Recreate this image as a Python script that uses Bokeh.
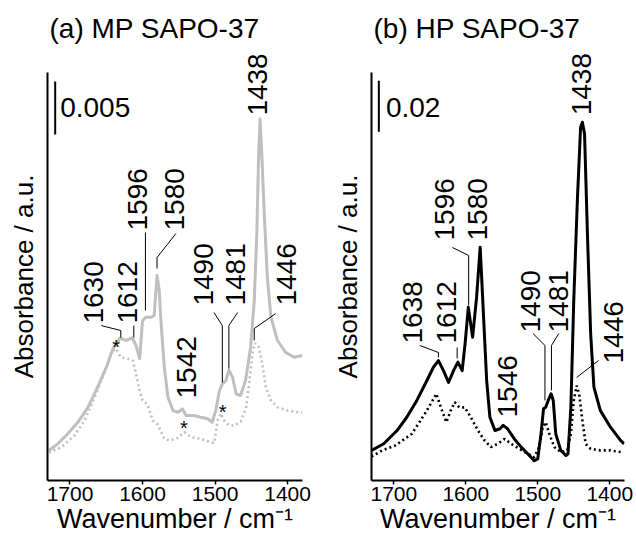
from bokeh.plotting import figure
from bokeh.models import ColumnDataSource, LabelSet, Range1d, FixedTicker
from bokeh.layouts import row
from bokeh.core.properties import value
from bokeh.embed import file_html
from bokeh.resources import INLINE

FONT = "Liberation Sans"

# ---------------- data: panel (a) MP SAPO-37 ----------------
a_solid_wn = [1729, 1717, 1703, 1689, 1675, 1662, 1648, 1641, 1636, 1631, 1623, 1614, 1609, 1604,
              1600, 1595, 1588, 1584, 1580, 1577, 1575, 1570, 1565, 1558, 1551, 1545, 1540, 1529,
              1520, 1510, 1504, 1499, 1494, 1490, 1485, 1481, 1476, 1471, 1465, 1458, 1451, 1446,
              1442.5, 1440, 1438, 1435.5, 1432, 1428, 1423, 1414, 1403, 1391, 1380]
a_solid_abs = [0.00283, 0.00346, 0.00441, 0.00550, 0.00692, 0.00880, 0.01101, 0.01242, 0.01290,
               0.01346, 0.01321, 0.01346, 0.01274, 0.01148, 0.01509, 0.01541, 0.01541, 0.01557,
               0.01934, 0.01792, 0.01541, 0.01069, 0.00786, 0.00660, 0.00644, 0.00676, 0.00613,
               0.00613, 0.00597, 0.00582, 0.00550, 0.00660, 0.00849, 0.00912, 0.00943, 0.01044,
               0.00975, 0.00818, 0.00802, 0.00943, 0.01258, 0.01698, 0.02330, 0.03060, 0.03412,
               0.03060, 0.02484, 0.01918, 0.01541, 0.01321, 0.01210, 0.01163, 0.01179]
a_dot_wn = [1729, 1712, 1694, 1680, 1666, 1653, 1643, 1636.5, 1630, 1620, 1613.5, 1609, 1604, 1600,
            1593, 1586, 1579, 1570, 1563, 1552, 1542.5, 1533, 1519.5, 1506, 1501, 1496.5, 1492,
            1487.5, 1480.5, 1474, 1464.5, 1457.5, 1453, 1448.5, 1445, 1439.5, 1435, 1430, 1423,
            1414, 1400, 1386.5, 1380]
a_dot_abs = [0.00264, 0.00314, 0.00425, 0.00566, 0.00786, 0.01007, 0.01208, 0.01245, 0.01163,
             0.01148, 0.01132, 0.01007, 0.00849, 0.00755, 0.00717, 0.00566, 0.00528, 0.00393,
             0.00377, 0.00401, 0.00456, 0.00409, 0.00393, 0.00361, 0.00354, 0.00566, 0.00632,
             0.00566, 0.00519, 0.00519, 0.00557, 0.00679, 0.00912, 0.01195, 0.01297, 0.01258,
             0.01101, 0.00880, 0.00755, 0.00692, 0.00660, 0.00644, 0.00642]
a_label_text = ["1630", "1612", "1596", "1580", "1542", "1490", "1481", "1446", "1438"]
a_label_wn = [1668, 1620.5, 1607.5, 1556.5, 1539, 1515.5, 1471.5, 1401.5, 1441]
a_label_abs = [0.01481, 0.01481, 0.02359, 0.02359, 0.00774, 0.01651, 0.01651, 0.01651, 0.03443]
a_leader_wn = [[1657, 1630, 1630], [1612, 1612], [1596, 1596], [1554, 1580, 1580],
               [1501.5, 1490, 1490], [1469, 1481, 1481], [1416.5, 1446, 1446]]
a_leader_abs = [[0.01462, 0.01415, 0.01349], [0.01462, 0.01349], [0.02340, 0.01604],
                [0.02330, 0.02104, 0.02000], [0.01585, 0.01462, 0.00925],
                [0.01585, 0.01462, 0.01057], [0.01575, 0.01434, 0.01321]]
a_star_wn = [1636.5, 1543, 1489.5]
a_star_abs = [0.01305, 0.00538, 0.00689]
a_scale = dict(wn=1720.4, top=0.03764, size=0.005, text="0.005", text_wn=1713.5, text_abs=0.03522)
a_axis_top = 0.0385        # drawn extent of the absorbance axis
a_view_top = 0.04076       # top of plotting area (room for the 1438 label)
a_ylabel_at = 0.01925      # where the axis title sits along the axis

# ---------------- data: panel (b) HP SAPO-37 ----------------
b_solid_wn = [1731, 1714, 1695.5, 1682, 1668, 1654, 1645, 1638, 1631, 1624, 1617, 1611, 1605, 1601,
              1596.5, 1590.5, 1585, 1580, 1575.5, 1571, 1566.5, 1559.5, 1552.5, 1548, 1542, 1532.5,
              1523, 1514, 1505, 1500, 1495.5, 1492, 1489, 1485.5, 1481.5, 1478.5, 1475, 1468, 1461,
              1458, 1454, 1450, 1445, 1440.5, 1438, 1435, 1431, 1426.5, 1422, 1413, 1399, 1385, 1380]
b_solid_abs = [0.01176, 0.01439, 0.0196, 0.0248, 0.0314, 0.0392, 0.0444, 0.0470, 0.0431, 0.0385,
               0.0431, 0.0464, 0.0431, 0.0536, 0.0679, 0.0562, 0.0719, 0.0915, 0.0653, 0.0392,
               0.0248, 0.0196, 0.0203, 0.0216, 0.0203, 0.0163, 0.0131, 0.0105, 0.0078, 0.0085,
               0.0183, 0.0281, 0.0287, 0.0314, 0.0340, 0.0314, 0.0183, 0.0118, 0.0098, 0.0105,
               0.0287, 0.0706, 0.1098, 0.1385, 0.1405, 0.1359, 0.0967, 0.0575, 0.0366, 0.0274,
               0.0209, 0.0157, 0.0144]
b_dot_wn = [1731, 1716.5, 1698, 1675, 1657, 1647.5, 1641, 1634, 1627, 1621, 1615.5, 1609, 1601.5,
            1594.5, 1583, 1574, 1565, 1555.5, 1546, 1537, 1525.5, 1514, 1505, 1498, 1493, 1489,
            1484, 1477, 1468, 1459, 1454, 1450, 1446, 1442.5, 1438, 1433.5, 1426.5, 1413, 1399, 1383]
b_dot_abs = [0.00941, 0.01176, 0.01372, 0.0183, 0.0261, 0.0307, 0.0340, 0.0282, 0.0229, 0.0274,
             0.0307, 0.0286, 0.0287, 0.0255, 0.0196, 0.0157, 0.0131, 0.0144, 0.0163, 0.0144,
             0.0124, 0.0105, 0.0091, 0.0131, 0.0209, 0.0229, 0.0183, 0.0131, 0.0111, 0.0118,
             0.0183, 0.0314, 0.0372, 0.0340, 0.0235, 0.0144, 0.0124, 0.0118, 0.0118, 0.0111]
b_label_text = ["1638", "1612", "1596", "1580", "1546", "1490", "1481", "1446", "1438"]
b_label_wn = [1673.8, 1626.8, 1629.6, 1584, 1542.6, 1509.4, 1470.7, 1394.5, 1439]
b_label_abs = [0.05373, 0.05373, 0.09413, 0.09413, 0.02471, 0.05804, 0.05804, 0.04589, 0.1432]
b_leader_wn = [[1664, 1638, 1638], [1612, 1612], [1618.5, 1596, 1596],
               [1506.7, 1490, 1490], [1470.7, 1481, 1481], [1415.5, 1446]]
b_leader_abs = [[0.05295, 0.0502, 0.04824], [0.05216, 0.04785], [0.09138, 0.08825, 0.06864],
                [0.05765, 0.05295, 0.03137], [0.05765, 0.05295, 0.0353], [0.04706, 0.0404]]
b_scale = dict(wn=1720.8, top=0.1568, size=0.02, text="0.02", text_wn=1711, text_abs=0.1462)
b_axis_top = 0.16
b_view_top = 0.16941
b_ylabel_at = 0.08

x_ticks = [1700, 1600, 1500, 1400]
x_lo, x_hi = 1379.5, 1731
Y_TITLE = "Absorbance / a.u."


def panel(title, width, left_border, right_border, solid_wn, solid_abs, dot_wn, dot_abs, color,
          lab_text, lab_wn, lab_abs, lead_wn, lead_abs, scale, axis_top, view_top, ylabel_at,
          star_wn=None, star_abs=None):
    p = figure(width=width, height=546, x_range=Range1d(x_hi, x_lo),
               y_range=Range1d(0, view_top),
               output_backend="svg", toolbar_location=None,
               min_border_left=left_border, min_border_right=right_border,
               min_border_top=48, min_border_bottom=66)
    p.outline_line_color = None
    p.xgrid.visible = False
    p.ygrid.visible = False
    p.background_fill_color = "white"
    p.border_fill_color = "white"

    p.title.text = title
    p.title.text_font = FONT
    p.title.text_font_size = "28px"
    p.title.text_font_style = "normal"
    p.title.text_color = "black"
    p.title.align = "left"
    p.title.offset = 2
    p.title.standoff = 10

    ax = p.xaxis[0]
    ax.ticker = FixedTicker(ticks=x_ticks)
    ax.axis_label = "Wavenumber / cm\u207b\u00b9"
    ax.axis_label_text_font = FONT
    ax.axis_label_text_font_size = "27px"
    ax.axis_label_text_font_style = "normal"
    ax.axis_label_text_color = "black"
    ax.axis_label_standoff = 0
    ax.major_label_text_font = FONT
    ax.major_label_text_font_size = "21px"
    ax.major_label_text_color = "black"
    ax.major_label_standoff = 2
    ax.major_tick_in = 0
    ax.major_tick_out = 4
    ax.minor_tick_in = 0
    ax.minor_tick_out = 0
    ax.axis_line_width = 2
    ax.major_tick_line_width = 1.5

    # absorbance axis: bare line; its title is placed along the axis as a single tick label
    ay = p.yaxis[0]
    ay.bounds = (0, axis_top)
    ay.ticker = FixedTicker(ticks=[ylabel_at])
    ay.major_label_overrides = {ylabel_at: Y_TITLE}
    ay.major_label_orientation = "parallel"
    ay.major_label_text_font = FONT
    ay.major_label_text_font_size = "26px"
    ay.major_label_text_color = "black"
    ay.major_label_standoff = 8
    ay.major_tick_in = 0
    ay.major_tick_out = 0
    ay.major_tick_line_color = None
    ay.minor_tick_in = 0
    ay.minor_tick_out = 0
    ay.axis_line_width = 2

    # spectra
    p.line(dot_wn, dot_abs, line_color=color, line_width=2.6, line_dash="2 3")
    p.line(solid_wn, solid_abs, line_color=color, line_width=3, line_join="round")

    # leader lines
    p.multi_line(lead_wn, lead_abs, line_color="black", line_width=1)

    # scale bar
    p.segment(x0=[scale["wn"]], y0=[scale["top"] - scale["size"]],
              x1=[scale["wn"]], y1=[scale["top"]], line_color="black", line_width=2)
    p.text(x=[scale["text_wn"]], y=[scale["text_abs"]], text=[scale["text"]],
           text_font=value(FONT), text_font_size="28px", text_align="left",
           text_baseline="middle", text_color="black")

    # stars
    if star_wn:
        p.text(x=star_wn, y=star_abs, text=["*"] * len(star_wn), text_font=value(FONT),
               text_font_size="20px", text_align="center", text_baseline="middle",
               y_offset=5, text_color="black")

    # peak labels (rotated)
    src = ColumnDataSource(dict(x=lab_wn, y=lab_abs, text=lab_text))
    ls = LabelSet(x="x", y="y", text="text", source=src, angle=90, angle_units="deg",
                  text_font=value(FONT), text_font_size="28px", text_align="left",
                  text_baseline="middle", text_color="black")
    p.add_layout(ls)
    return p


pa = panel("(a) MP SAPO-37", 330, 47, 28, a_solid_wn, a_solid_abs, a_dot_wn, a_dot_abs, "#bfbfbf",
           a_label_text, a_label_wn, a_label_abs, a_leader_wn, a_leader_abs, a_scale,
           a_axis_top, a_view_top, a_ylabel_at, a_star_wn, a_star_abs)
pb = panel("(b) HP SAPO-37", 306, 39, 12, b_solid_wn, b_solid_abs, b_dot_wn, b_dot_abs, "black",
           b_label_text, b_label_wn, b_label_abs, b_leader_wn, b_leader_abs, b_scale,
           b_axis_top, b_view_top, b_ylabel_at)

layout = row(pa, pb, spacing=0)
open("out.html", "w").write(file_html(layout, INLINE))
